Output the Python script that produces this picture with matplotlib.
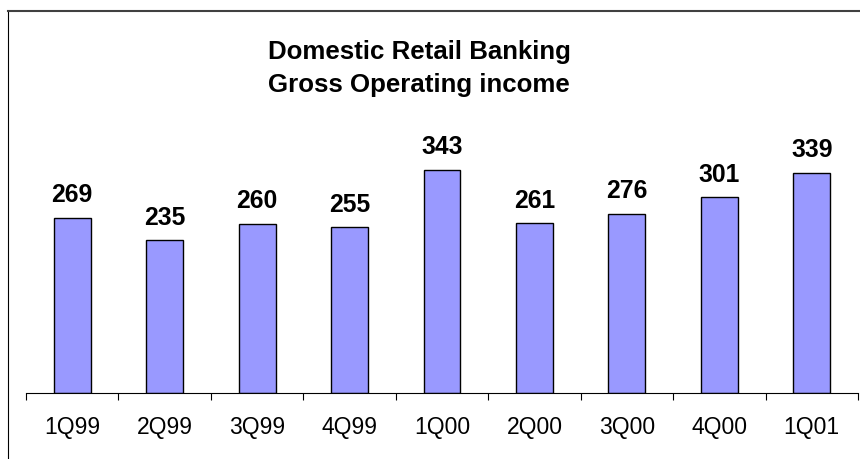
import matplotlib
matplotlib.use("Agg")
import matplotlib.pyplot as plt
from matplotlib.lines import Line2D
import numpy as np

plt.rcParams['font.family'] = ['Liberation Sans', 'DejaVu Sans']

# data
quarters = ["1Q99", "2Q99", "3Q99", "4Q99", "1Q00", "2Q00", "3Q00", "4Q00", "1Q01"]
income = [269, 235, 260, 255, 343, 261, 276, 301, 339]

W, H = 860, 459
fig = plt.figure(figsize=(W / 100, H / 100), dpi=100)

# axes placed in pixel terms: x 26..858, baseline at y=393
ax = fig.add_axes([26 / W, (H - 393) / H, (858 - 26) / W, 260 / H])
x = np.arange(len(quarters))
ax.bar(x, income, width=0.4, color='#9999FF', edgecolor='black', linewidth=1.0)

for xi, v in zip(x, income):
    ax.annotate(str(v), (xi, v), xytext=(0, 11.3), textcoords='offset points',
                ha='center', va='baseline', fontsize=17.8, fontweight='bold')

ax.set_xlim(-0.5, len(quarters) - 0.5)
ax.set_ylim(0, 400)
ax.set_yticks([])
for s in ['top', 'right', 'left']:
    ax.spines[s].set_visible(False)
ax.spines['bottom'].set_linewidth(0.8)

# labels at category centers, tick marks between categories
ax.set_xticks(x)
ax.set_xticklabels(quarters, fontsize=16.5)
ax.set_xticks(np.arange(-0.5, len(quarters)), minor=True)
ax.tick_params(axis='x', which='major', length=0, pad=16.5)
ax.tick_params(axis='x', which='minor', length=5, width=0.8, direction='out')

fig.text(419 / W, 1 - 40 / H, "Domestic Retail Banking\nGross Operating income",
         ha='center', va='top', fontsize=18.6, fontweight='bold', linespacing=1.45)

# chart frame (only top and left edges visible in the crop)
fig.add_artist(Line2D([8 / W, 8 / W], [0, 1 - 10.5 / H], color='black', lw=0.8))
fig.add_artist(Line2D([8 / W, 1], [1 - 10.5 / H, 1 - 10.5 / H], color='#404040', lw=1.5))

fig.savefig("out.png", dpi=100)
